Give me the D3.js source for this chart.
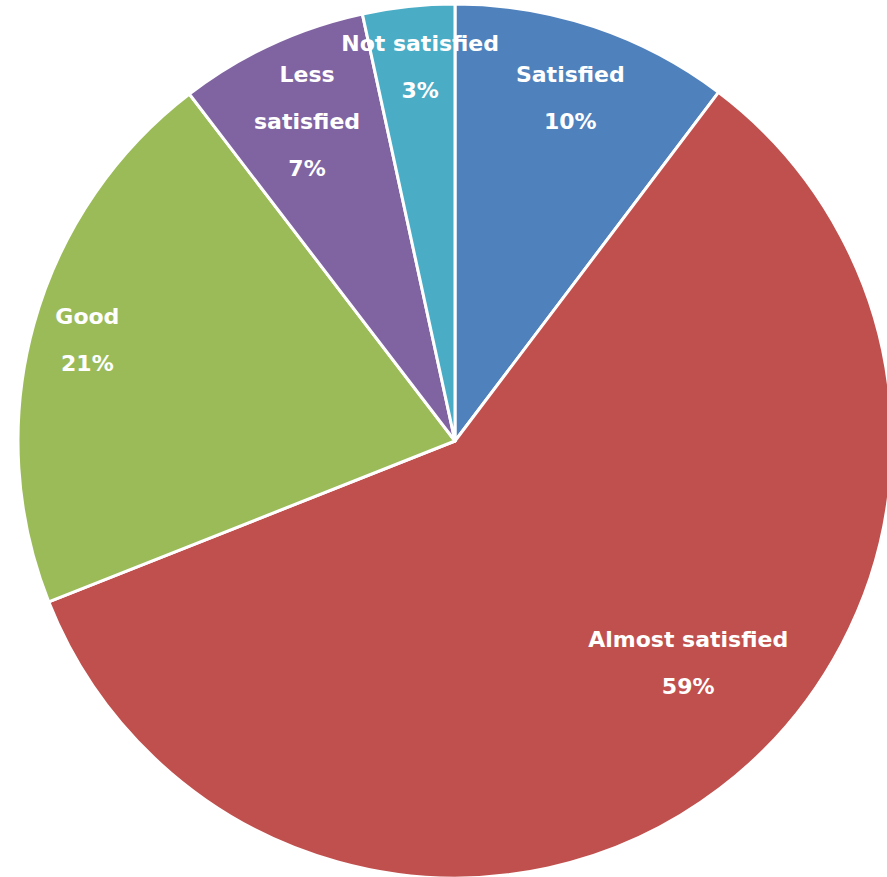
<!DOCTYPE html>
<html>
<head>
<meta charset="utf-8">
<script src="https://cdn.jsdelivr.net/npm/d3@7"></script>
<style>
  body { margin: 0; background: #fff; }
</style>
</head>
<body>
<div id="chart"></div>
<script>
// Slice data (clockwise from 12 o'clock)
const categories = ["Satisfied", "Almost satisfied", "Good", "Less satisfied", "Not satisfied"];
const values = [10.3, 58.7, 20.6, 7.0, 3.4];
const colors = ["#4F81BD", "#C0504D", "#9BBB59", "#8064A2", "#4BACC6"];
// how the label text is broken into lines
const labelLines = [["Satisfied"], ["Almost satisfied"], ["Good"], ["Less", "satisfied"], ["Not satisfied"]];

const width = 887, height = 877;
const cx = 455, cy = 441, radius = 437;

// label placement: fraction of radius and angle tweak (degrees)
const labelPlace = [
    { r: 0.83, da: 0 },
    { r: 0.736, da: -9.2 },
    { r: 0.873, da: 0 },
    { r: 0.806, da: 0 },
    { r: 0.861, da: 0.8 }
];

const data = categories.map((c, i) => ({ name: c, value: values[i], color: colors[i], lines: labelLines[i], place: labelPlace[i] }));
const total = d3.sum(values);

const svg = d3.select("#chart")
    .append("svg")
    .attr("width", width)
    .attr("height", height);

const g = svg.append("g")
    .attr("transform", "translate(" + cx + "," + cy + ")");

const pie = d3.pie()
    .value(d => d.value)
    .sort(null);

const arc = d3.arc()
    .innerRadius(0)
    .outerRadius(radius);

const arcs = pie(data);

g.selectAll(".slice")
    .data(arcs)
    .join("path")
    .attr("class", "slice")
    .attr("d", arc)
    .attr("fill", d => d.data.color)
    .attr("stroke", "#fff")
    .attr("stroke-width", 3)
    .attr("stroke-linejoin", "round");

// Labels
const lineH = 47;
const fmt = d3.format(".0%");

const labels = g.selectAll(".label")
    .data(arcs)
    .join("text")
    .attr("class", "label")
    .attr("text-anchor", "middle")
    .attr("fill", "#fff")
    .style("font-family", "'DejaVu Sans', sans-serif")
    .style("font-weight", "bold")
    .style("font-size", "22px")
    .attr("transform", d => {
        const a = (d.startAngle + d.endAngle) / 2 + d.data.place.da * Math.PI / 180;
        const r = radius * d.data.place.r;
        return "translate(" + (r * Math.sin(a)) + "," + (-r * Math.cos(a)) + ")";
    });

labels.each(function (d) {
    const lines = d.data.lines.concat([fmt(d.data.value / total)]);
    const y0 = -(lines.length - 1) * lineH / 2;
    d3.select(this).selectAll("tspan")
        .data(lines)
        .join("tspan")
        .attr("x", 0)
        .attr("y", (t, i) => y0 + i * lineH)
        .attr("dy", "0.36em")
        .text(t => t);
});
</script>
</body>
</html>
